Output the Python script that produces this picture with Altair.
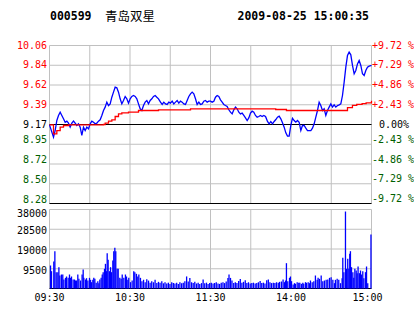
import altair as alt
import pandas as pd

# ---------------- data ----------------
PRE_CLOSE = 9.17
LIMIT_PCT = 9.72

# blue price line: trading minute since 09:30, price
price_min = [0, 2.98, 4.22, 5.47, 6.71, 7.95, 9.19, 10.43, 11.68, 12.92, 14.16, 15.40, 16.65, 17.89,
             19.13, 20.37, 21.61, 22.86, 24.10, 25.34, 26.58, 27.82, 29.07, 30.31, 31.55, 32.79, 34.04,
             35.28, 36.52, 37.76, 39.01, 40.25, 41.49, 42.73, 43.98, 45.22, 46.46, 47.70, 48.94, 50.19,
             51.43, 52.67, 53.91, 55.16, 56.40, 57.64, 58.88, 60.12, 61.36, 62.61, 63.85, 65.09, 66.33,
             67.58, 68.82, 70.06, 71.30, 72.55, 73.79, 75.03, 76.27, 77.52, 78.76, 80.00, 81.24,
             82.73, 83.97, 85.21, 86.45, 87.70, 88.94, 90.18, 91.42, 92.66, 93.91, 95.15, 96.39, 97.63,
             98.87, 100.12, 101.36, 102.60, 103.84, 105.09, 106.33, 107.57, 108.81, 110.05, 111.30,
             112.54, 113.78, 115.02, 116.26, 117.51, 118.75, 119.99, 121.23, 122.48, 123.72, 124.96,
             126.20, 127.44, 128.69, 129.93, 131.17, 132.41, 133.65, 134.90, 136.14, 137.38, 138.62,
             139.86, 141.11, 142.35, 143.59, 144.83, 146.07, 147.32, 148.56, 149.80, 151.04, 152.29,
             153.53, 154.77, 156.01, 157.25, 158.50, 159.74, 160.98,
             161.23, 162.48, 163.72, 164.96, 166.20, 167.45, 168.69, 169.93, 171.17, 172.41, 173.66,
             174.90, 176.14, 177.38, 178.62, 179.87, 181.11, 182.35, 183.59, 184.83, 186.08, 187.32,
             188.56, 189.80, 191.05, 192.29, 193.53, 194.77, 196.01, 197.26, 198.50, 199.74, 200.98,
             202.22, 203.47, 204.71, 205.95, 207.19, 208.44, 209.68, 210.92, 212.16, 213.40, 214.65,
             215.89, 217.13, 218.37, 219.62, 220.86, 222.10, 223.34, 224.58, 225.83, 227.07, 228.31,
             229.55, 230.79, 232.04, 233.28, 234.52, 235.76, 237.00, 238.25, 240.0]
price_val = [9.166, 9.027, 9.102, 9.215, 9.272, 9.309, 9.272, 9.234, 9.196, 9.208, 9.185, 9.140, 9.185,
             9.208, 9.185, 9.159, 9.178, 9.140, 9.046, 9.140, 9.102, 9.140, 9.121, 9.178, 9.208, 9.196,
             9.178, 9.185, 9.208, 9.223, 9.272, 9.328, 9.366, 9.422, 9.384, 9.403, 9.478, 9.535, 9.591,
             9.584, 9.535, 9.460, 9.403, 9.441, 9.486, 9.460, 9.411, 9.460, 9.486, 9.497, 9.486, 9.460,
             9.403, 9.347, 9.328, 9.384, 9.422, 9.441, 9.403, 9.441, 9.460, 9.486, 9.497, 9.478, 9.460,
             9.422, 9.396, 9.422, 9.403, 9.396, 9.422, 9.411, 9.433, 9.403, 9.422, 9.441, 9.411, 9.433,
             9.422, 9.403, 9.396, 9.441, 9.486, 9.516, 9.535, 9.516, 9.460, 9.396, 9.422, 9.396, 9.403,
             9.433, 9.441, 9.422, 9.433, 9.433, 9.422, 9.433, 9.478, 9.497, 9.486, 9.448, 9.422, 9.396,
             9.384, 9.373, 9.336, 9.309, 9.290, 9.336, 9.366, 9.347, 9.309, 9.290, 9.298, 9.272, 9.245,
             9.215, 9.245, 9.298, 9.320, 9.309, 9.272, 9.253, 9.260, 9.272, 9.260, 9.272, 9.260,
             9.253, 9.204, 9.178, 9.204, 9.178, 9.204, 9.226, 9.253, 9.264, 9.234, 9.189, 9.140, 9.076,
             9.039, 9.039, 9.159, 9.241, 9.215, 9.196, 9.215, 9.196, 9.102, 9.159, 9.159, 9.129, 9.102,
             9.102, 9.102, 9.129, 9.178, 9.253, 9.328, 9.422, 9.384, 9.328, 9.347, 9.272, 9.328, 9.366,
             9.403, 9.366, 9.392, 9.366, 9.384, 9.392, 9.403, 9.497, 9.648, 9.817, 9.948, 9.986, 9.956,
             9.836, 9.742, 9.779, 9.854, 9.892, 9.836, 9.742, 9.723, 9.779, 9.817, 9.828, 9.836]

# red average-price line
avg_min = [0, 2.98, 5.47, 7.95, 10.43, 14.16, 40.25, 41.49, 43.98, 46.46, 48.94, 51.43, 53.91, 58.88,
           66.33, 81.24, 104.5, 105.1, 168.0, 168.6, 176.0, 176.6, 219.6, 222.1, 225.8, 229.0, 233.0,
           236.0, 240.0]
avg_val = [9.166, 9.065, 9.102, 9.140, 9.159, 9.166, 9.170, 9.185, 9.208, 9.223, 9.260, 9.290, 9.302,
           9.309, 9.328, 9.336, 9.336, 9.347, 9.347, 9.339, 9.339, 9.328, 9.328, 9.360, 9.385, 9.398,
           9.405, 9.414, 9.437]

# volume bars
vol_min = [0.75, 1.5, 3.2, 4.0, 5.0, 6.2, 7.0, 7.7, 8.9, 9.9, 10.7, 11.9, 12.7, 13.9, 14.9, 15.7, 16.4,
           17.6, 18.6, 19.4, 20.1, 21.1, 21.9, 23.1, 24.3, 25.1, 25.6, 26.8, 27.6, 28.6, 29.8, 30.6,
           31.3, 32.3, 33.0, 33.8, 34.8, 36.0, 36.8, 37.5, 38.5, 39.3, 40.0, 41.0, 41.7, 42.5, 43.0,
           43.7, 44.7, 45.5, 46.2, 47.2, 47.9, 48.7, 49.4, 50.4, 51.2, 52.4, 53.4, 54.2, 55.4, 56.6,
           57.4, 58.4, 59.1, 60.4, 61.6, 62.8, 63.6, 64.8, 65.8, 66.6,
           67.8, 68.9, 70.1, 71.3, 72.5, 73.8, 75.0, 76.2, 77.5, 78.7, 80.0, 81.2, 82.4, 83.7, 84.9,
           86.1, 87.4, 88.6, 89.8, 91.1, 92.3, 93.5, 94.8, 96.0, 97.2, 98.5, 99.7, 100.9, 102.2, 103.4,
           104.6, 105.9, 107.1, 108.3, 109.6, 110.8, 112.0, 113.3, 114.5, 115.7, 117.0, 118.2, 119.4,
           120.6, 121.9, 123.1, 124.3, 125.6, 126.8, 128.0, 129.3, 130.5, 131.7, 133.0, 133.8, 134.9,
           136.0, 137.3, 138.5, 139.7, 141.0, 142.2, 143.4, 144.6, 145.9, 147.1, 148.3, 149.6, 150.8,
           152.0, 153.3, 154.5, 155.7, 157.0, 158.2, 159.4, 160.6, 161.9, 163.1, 164.3, 165.5, 166.8,
           168.0, 169.2, 170.5, 171.5,
           172.9, 174.1, 175.1, 175.9, 176.6, 177.6, 178.9, 179.6, 180.4, 181.6, 182.6, 183.3, 184.6,
           185.8, 186.6, 187.8, 188.8, 189.5, 190.8, 191.5, 192.8, 193.8, 194.5, 195.8, 197.0, 198.2,
           199.5, 200.2, 201.2, 202.5, 203.7, 204.9, 206.2, 207.4, 208.7, 209.9, 211.2, 212.4, 213.1,
           214.4, 215.6, 216.9, 218.1, 218.6, 219.4, 220.6, 221.3, 222.3, 223.1, 223.8, 224.3, 225.1,
           226.1, 226.8, 227.6, 228.6, 229.3, 230.0, 231.0, 231.8, 232.5, 233.5, 234.3, 235.5, 236.3,
           237.2, 239.6]
vol_val = [11061, 8336, 12984, 17954, 7855, 7855, 10259, 6252, 6733, 6733, 4328, 5130, 5771, 5130, 6733,
           5130, 5771, 4328, 4328, 3847, 3847, 6733, 4649, 3847, 6733, 9137, 5130, 4328, 4969, 3847,
           5130, 4168, 3046, 4168, 5130, 4649, 2725, 3527, 2565, 4328, 5130, 6733, 7855, 9458, 11862,
           8336, 16992, 13786, 8336, 10259, 7855, 13465, 17954, 19557, 17954, 9458, 9458, 5130, 4649,
           6733, 5130, 6733, 5771, 4168, 5130, 3046, 3847, 8336, 7855, 7053, 5771, 6733,
           5130, 3500, 4200, 3000, 4500, 3800, 2800, 3500, 3000, 4200, 2600, 3200, 2800, 3500, 2500,
           3000, 2400, 2800, 2200, 3000, 2600, 2400, 2800, 2200, 3000, 2500, 2800, 3500, 5800, 3400,
           5000, 3000, 2600, 3200, 2400, 2800, 2200, 2600, 4300, 2500, 2800, 2200, 2600,
           2800, 2400, 2600, 3000, 2400, 2200, 2800, 3000, 2600, 3400, 5100, 6700, 5100,
           3800, 2600, 3000, 2600, 3600, 4600, 2800, 3200, 4000, 2600, 3000, 2400, 2600,
           2800, 2400, 2600, 3000, 3600, 2600, 2800, 2400, 4000, 4300, 3000, 2600, 2800,
           2600, 3000, 2800, 3200,
           3366, 4328, 3046, 3847, 12183, 3527, 5130, 5771, 3527, 1924, 2565, 2244, 3046,
           2725, 2725, 2244, 2725, 2244, 3046, 2725, 3046, 2565, 3847, 3046, 3527, 6252,
           4168, 5130, 4649, 6252, 3527, 3847, 4168, 4328, 5130, 5450, 4168, 2565, 4168,
           4649, 4168, 2565, 4969, 14748, 7855, 37029, 9458, 14267, 9458, 16671, 17954, 10259,
           7855, 5130, 9458, 8656, 7374, 10580, 7374, 8656, 6733, 8336, 4969, 7855, 10580,
           2565, 25969]

pct_steps = [9.72, 7.29, 4.86, 2.43, 0.0, -2.43, -4.86, -7.29, -9.72]
price_labels = ["10.06", "9.84", "9.62", "9.39", "9.17", "8.95", "8.72", "8.50", "8.28"]
pct_labels = ["+9.72 %", "+7.29 %", "+4.86 %", "+2.43 %", "0.00%", "-2.43 %", "-4.86 %", "-7.29 %", "-9.72 %"]
vol_ticks = [38000, 28500, 19000, 9500]
vol_labels = ["38000", "28500", "19000", "9500"]
grid_minutes = [0, 30, 60, 90, 120, 150, 180, 210, 240]
time_ticks = [0, 60, 120, 180, 240]
time_labels = ["09:30", "10:30", "11:30", "14:00", "15:00"]
title_code = "000599"
title_name = "青岛双星"
title_time = "2009-08-25 15:00:35"

# ---------------- layout ----------------
W = 322
PRICE_H = 158
GAP = 6
VOL_H = 79
H = PRICE_H + GAP + VOL_H

p_hi = PRE_CLOSE * (1 + LIMIT_PCT / 100)
p_lo_panel = PRE_CLOSE * (1 - LIMIT_PCT / 100)
p_lo = p_hi - (p_hi - p_lo_panel) * H / PRICE_H
v_top = vol_ticks[0] * H / VOL_H

MONO = "DejaVu Sans Mono"
RED = "#ff0000"
GREEN = "#006000"
GRID = "#c0c0c0"

price_df = pd.DataFrame({"m": price_min, "p": price_val})
avg_df = pd.DataFrame({"m": avg_min, "p": avg_val})
vol_df = pd.DataFrame({"m": vol_min, "v": vol_val})
ticks_df = pd.DataFrame({
    "p": [PRE_CLOSE * (1 + s / 100) for s in pct_steps],
    "label": price_labels,
    "pct": pct_labels,
    "kind": ["up" if s > 0 else ("flat" if s == 0 else "down") for s in pct_steps],
})
vticks_df = pd.DataFrame({"v": vol_ticks, "label": vol_labels})
grid_df = pd.DataFrame({"m": grid_minutes})
time_df = pd.DataFrame({"m": time_ticks, "label": time_labels})

xs = alt.Scale(domain=[0, 240], nice=False, zero=False)
ps = alt.Scale(domain=[p_lo, p_hi], nice=False, zero=False)
vs = alt.Scale(domain=[0, v_top], nice=False, zero=False)
X = alt.X("m:Q", scale=xs, axis=None)
PY = alt.Y("p:Q", scale=ps, axis=None)
VY = alt.Y("v:Q", scale=vs, axis=None)
kind_color = alt.Color("kind:N", scale=alt.Scale(domain=["up", "flat", "down"], range=[RED, "#000000", GREEN]), legend=None)

vgrid_p = alt.Chart(grid_df).mark_rule(color=GRID, strokeWidth=1).encode(x=X, y=alt.value(0), y2=alt.value(PRICE_H))
vgrid_v = alt.Chart(grid_df).mark_rule(color=GRID, strokeWidth=1).encode(x=X, y=alt.value(PRICE_H + GAP), y2=alt.value(H))
hgrid_p = alt.Chart(ticks_df).mark_rule(color=GRID, strokeWidth=1).encode(y=PY, x=alt.value(0), x2=alt.value(W))
hgrid_p_black = alt.Chart(ticks_df).transform_filter("datum.kind == 'flat' || datum.p < 8.3").mark_rule(
    color="#000000", strokeWidth=1).encode(y=PY, x=alt.value(0), x2=alt.value(W))
hgrid_v = alt.Chart(vticks_df).mark_rule(color=GRID, strokeWidth=1).encode(y=VY, x=alt.value(0), x2=alt.value(W))
vbase = alt.Chart(pd.DataFrame({"v": [0]})).mark_rule(color="#000000", strokeWidth=1).encode(
    y=VY, x=alt.value(0), x2=alt.value(W))

bars = alt.Chart(vol_df).mark_rule(color="#0000ff", strokeWidth=1.3).encode(x=X, y=VY, y2=alt.datum(0))
pline = alt.Chart(price_df).mark_line(color="#0000ff", strokeWidth=1.3).encode(x=X, y=PY)
aline = alt.Chart(avg_df).mark_line(color=RED, strokeWidth=1.3, interpolate="step-after").encode(x=X, y=PY)

def txt(**kw):
    base = dict(font=MONO, fontSize=10, baseline="middle")
    base.update(kw)
    return base

left_up = alt.Chart(ticks_df).transform_filter("datum.kind != 'down'").mark_text(**txt(align="right")).encode(
    y=PY, x=alt.value(-2.5), text="label:N", color=kind_color)
left_down = alt.Chart(ticks_df).transform_filter("datum.kind == 'down'").mark_text(**txt(align="right", dy=-4)).encode(
    y=PY, x=alt.value(-2.5), text="label:N", color=kind_color)
right_up = alt.Chart(ticks_df).transform_filter("datum.kind == 'up'").mark_text(**txt(align="left")).encode(
    y=PY, x=alt.value(W + 0.5), text="pct:N", color=kind_color)
right_down = alt.Chart(ticks_df).transform_filter("datum.kind == 'down'").mark_text(**txt(align="left", dy=-4.5)).encode(
    y=PY, x=alt.value(W + 0.5), text="pct:N", color=kind_color)
zero_lab = alt.Chart(ticks_df).transform_filter("datum.kind == 'flat'").mark_text(**txt(align="left")).encode(
    y=PY, x=alt.value(W + 7.5), text="pct:N", color=kind_color)
vol_lab_top = alt.Chart(vticks_df).transform_filter("datum.v >= 38000").mark_text(
    **txt(align="right", color="#000000", dy=4.5)).encode(y=VY, x=alt.value(-2.5), text="label:N")
vol_lab = alt.Chart(vticks_df).transform_filter("datum.v < 38000").mark_text(
    **txt(align="right", color="#000000", dy=2)).encode(y=VY, x=alt.value(-2.5), text="label:N")
time_lab = alt.Chart(time_df).transform_filter("datum.m < 240").mark_text(
    **txt(align="center", color="#000000")).encode(x=X, y=alt.value(H + 9.5), text="label:N")
time_lab_last = alt.Chart(time_df).transform_filter("datum.m >= 240").mark_text(
    **txt(align="center", color="#000000", dx=-4)).encode(x=X, y=alt.value(H + 9.5), text="label:N")

title_df = pd.DataFrame({"code": [title_code], "name": [title_name], "time": [title_time]})
t_code = alt.Chart(title_df).mark_text(font=MONO, fontSize=11.5, fontWeight="bold", align="left",
                                       baseline="middle", color="#000000").encode(
    x=alt.value(0.5), y=alt.value(-28.5), text="code:N")
t_name = alt.Chart(title_df).mark_text(font="Noto Sans CJK SC", fontSize=12.5, align="left",
                                       baseline="middle", color="#000000").encode(
    x=alt.value(55.5), y=alt.value(-28.5), text="name:N")
t_time = alt.Chart(title_df).mark_text(font=MONO, fontSize=11.5, fontWeight="bold", align="left",
                                       baseline="middle", color="#000000").encode(
    x=alt.value(188), y=alt.value(-28.5), text="time:N")

chart = alt.layer(
    vgrid_p, vgrid_v, hgrid_p, hgrid_v, hgrid_p_black, vbase,
    bars, pline, aline,
    left_up, left_down, right_up, right_down, zero_lab, vol_lab_top, vol_lab, time_lab, time_lab_last,
    t_code, t_name, t_time,
).resolve_scale(y="independent").properties(
    width=W, height=H,
    autosize=alt.AutoSizeParams(type="none"),
    padding={"left": 49.5, "top": 45.5, "right": 42.5, "bottom": 25.5},
    background="#ffffff",
).configure_view(stroke=None)

chart.save("out.html", embed_options={"renderer": "svg", "actions": False})
